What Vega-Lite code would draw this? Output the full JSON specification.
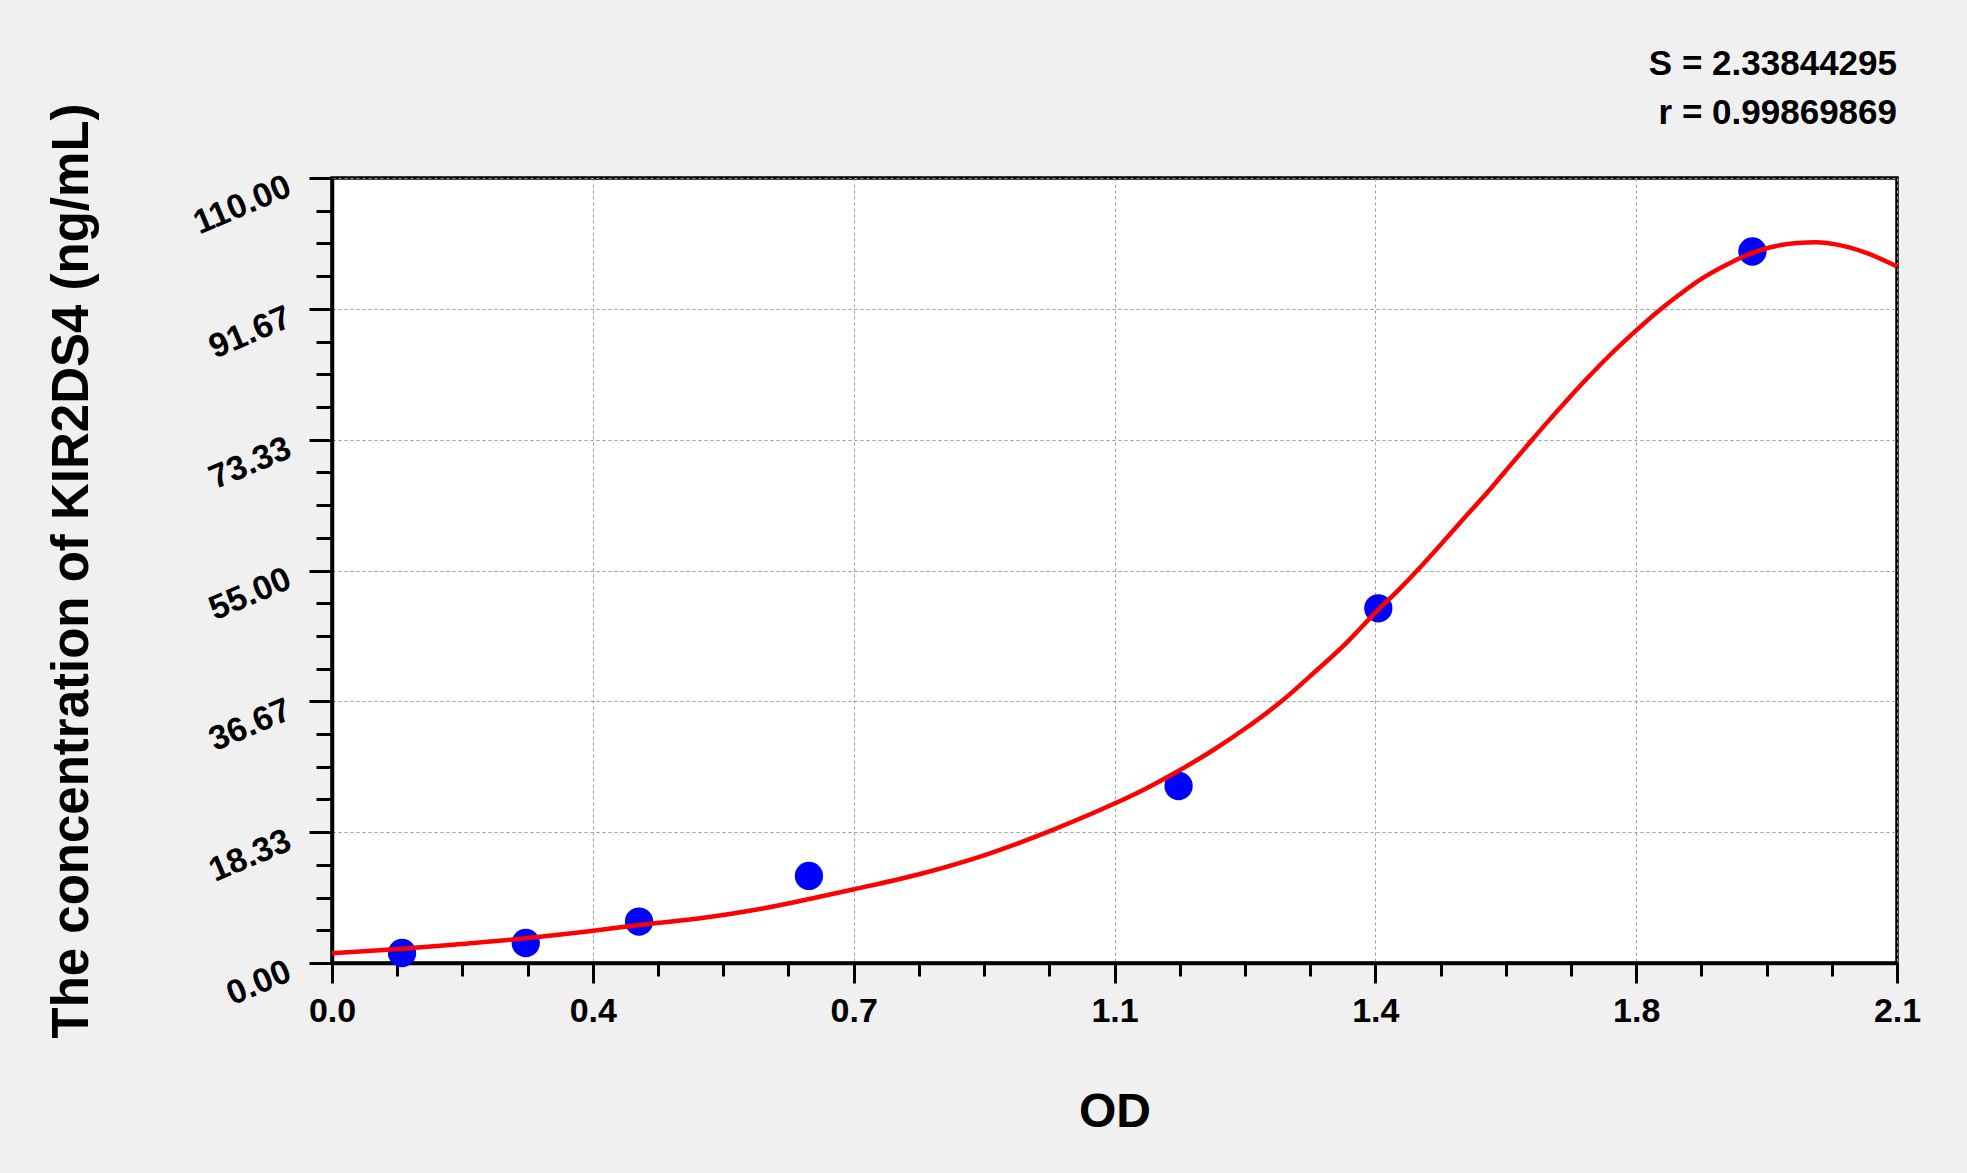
{
  "$schema": "https://vega.github.io/schema/vega-lite/v6.json",
  "width": 1565,
  "height": 785,
  "autosize": {"type": "none"},
  "padding": {"left": 332, "top": 178, "right": 70, "bottom": 210},
  "background": "#f0f0f0",
  "title": {
    "text": ["S = 2.33844295", "r = 0.99869869"],
    "anchor": "end",
    "align": "right",
    "frame": "group",
    "font": "Liberation Sans",
    "fontSize": 35,
    "fontWeight": "bold",
    "color": "black",
    "lineHeight": 49,
    "offset": -28
  },
  "datasets": {
    "standards": [
      {"od": 0.094, "conc": 1.4},
      {"od": 0.26, "conc": 2.8},
      {"od": 0.412, "conc": 5.8},
      {"od": 0.64, "conc": 12.2},
      {"od": 1.136, "conc": 24.8},
      {"od": 1.404, "conc": 49.7},
      {"od": 1.906, "conc": 99.7}
    ],
    "curve": [
      {"od": 0.0, "conc": 1.36},
      {"od": 0.085, "conc": 1.92},
      {"od": 0.1725, "conc": 2.66},
      {"od": 0.26, "conc": 3.46},
      {"od": 0.348, "conc": 4.48},
      {"od": 0.412, "conc": 5.32},
      {"od": 0.494, "conc": 6.26},
      {"od": 0.572, "conc": 7.52},
      {"od": 0.639, "conc": 8.93},
      {"od": 0.7005, "conc": 10.33},
      {"od": 0.793, "conc": 12.57},
      {"od": 0.883, "conc": 15.37},
      {"od": 0.973, "conc": 18.9},
      {"od": 1.047, "conc": 22.2},
      {"od": 1.0932, "conc": 24.5},
      {"od": 1.1356, "conc": 26.9},
      {"od": 1.1826, "conc": 29.85},
      {"od": 1.2274, "conc": 33.0},
      {"od": 1.272, "conc": 36.5},
      {"od": 1.3168, "conc": 40.6},
      {"od": 1.3616, "conc": 44.9},
      {"od": 1.4, "conc": 49.1},
      {"od": 1.4333, "conc": 52.5},
      {"od": 1.4615, "conc": 55.6},
      {"od": 1.484, "conc": 58.2},
      {"od": 1.5146, "conc": 61.8},
      {"od": 1.5558, "conc": 66.6},
      {"od": 1.5865, "conc": 70.4},
      {"od": 1.607, "conc": 72.9},
      {"od": 1.6327, "conc": 76.0},
      {"od": 1.6584, "conc": 79.0},
      {"od": 1.684, "conc": 81.9},
      {"od": 1.7149, "conc": 85.2},
      {"od": 1.7487, "conc": 88.5},
      {"od": 1.7816, "conc": 91.5},
      {"od": 1.8073, "conc": 93.6},
      {"od": 1.838, "conc": 95.9},
      {"od": 1.874, "conc": 98.0},
      {"od": 1.9058, "conc": 99.5},
      {"od": 1.9305, "conc": 100.3},
      {"od": 1.966, "conc": 100.9},
      {"od": 1.992, "conc": 101.0},
      {"od": 2.0178, "conc": 100.7},
      {"od": 2.0589, "conc": 99.5},
      {"od": 2.1, "conc": 97.6}
    ]
  },
  "encoding": {
    "x": {
      "field": "od",
      "type": "quantitative",
      "scale": {"domain": [0, 2.1], "nice": false, "zero": false},
      "axis": {
        "title": "OD",
        "values": [0, 0.0875, 0.175, 0.2625, 0.35, 0.4375, 0.525, 0.6125, 0.7, 0.7875, 0.875, 0.9625, 1.05, 1.1375, 1.225, 1.3125, 1.4, 1.4875, 1.575, 1.6625, 1.75, 1.8375, 1.925, 2.0125, 2.1],
        "labelExpr": "abs(datum.value / 0.35 - round(datum.value / 0.35)) < 0.01 ? format(datum.value + 0.0001, '.1f') : ''",
        "labelFlush": false,
        "labelOverlap": false,
        "labelBound": false,
        "labelPadding": 11,
        "labelFontSize": 34,
        "tickSize": {"condition": {"test": "abs(datum.value / 0.35 - round(datum.value / 0.35)) < 0.01", "value": 20}, "value": 13},
        "gridOpacity": {"condition": {"test": "abs(datum.value / 0.35 - round(datum.value / 0.35)) < 0.01", "value": 1}, "value": 0},
        "titlePadding": 60
      }
    },
    "y": {
      "field": "conc",
      "type": "quantitative",
      "scale": {"domain": [0, 110], "nice": false},
      "axis": {
        "title": "The concentration of KIR2DS4 (ng/mL)",
        "titleFontSize": 51,
        "values": [0, 4.5833333, 9.1666667, 13.75, 18.3333333, 22.9166667, 27.5, 32.0833333, 36.6666667, 41.25, 45.8333333, 50.4166667, 55, 59.5833333, 64.1666667, 68.75, 73.3333333, 77.9166667, 82.5, 87.0833333, 91.6666667, 96.25, 100.8333333, 105.4166667, 110],
        "labelExpr": "abs(datum.value / (110 / 6) - round(datum.value / (110 / 6))) < 0.01 ? format(datum.value, '.2f') : ''",
        "labelAngle": -23,
        "labelAlign": "right",
        "labelBaseline": "middle",
        "labelOverlap": false,
        "labelBound": false,
        "labelFlush": false,
        "labelPadding": 20,
        "labelOffset": 7,
        "labelFontSize": 34,
        "tickSize": {"condition": {"test": "abs(datum.value / (110 / 6) - round(datum.value / (110 / 6))) < 0.01", "value": 23}, "value": 16},
        "gridOpacity": {"condition": {"test": "abs(datum.value / (110 / 6) - round(datum.value / (110 / 6))) < 0.01", "value": 1}, "value": 0},
        "titlePadding": 90
      }
    }
  },
  "layer": [
    {
      "data": {"name": "standards"},
      "mark": {"type": "circle", "color": "#0000ff", "opacity": 1, "size": 800}
    },
    {
      "data": {"name": "curve"},
      "mark": {"type": "line", "color": "#ff0000", "strokeWidth": 4.5, "interpolate": "monotone"}
    }
  ],
  "config": {
    "view": {"fill": "white", "stroke": "black", "strokeWidth": 3.5},
    "axis": {
      "labelFont": "Liberation Sans",
      "labelFontWeight": "bold",
      "labelColor": "black",
      "titleFont": "Liberation Sans",
      "titleFontSize": 48,
      "titleFontWeight": "bold",
      "titleColor": "black",
      "domainColor": "black",
      "domainWidth": 3.5,
      "tickColor": "black",
      "tickWidth": 3,
      "grid": true,
      "gridColor": "#9a9a9a",
      "gridDash": [3, 3],
      "gridWidth": 1
    }
  }
}
